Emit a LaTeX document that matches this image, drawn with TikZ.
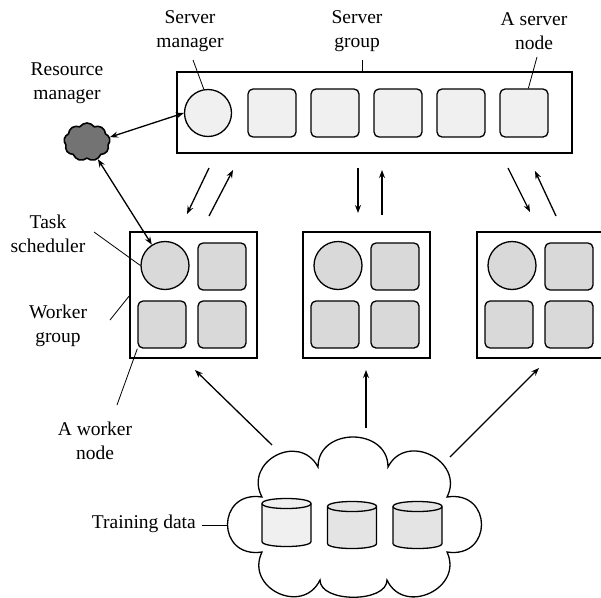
\documentclass[tikz,border=0pt]{standalone}
\usepackage{fontspec}
\setmainfont{Liberation Serif}
\usetikzlibrary{shapes.symbols,arrows.meta}
\definecolor{lightfill}{HTML}{F0F0F0}
\definecolor{midfill}{HTML}{D9D9D9}
\definecolor{cylfill}{HTML}{E4E4E4}
\definecolor{cloudfill}{HTML}{737373}
\begin{document}
\begin{tikzpicture}[x=1pt,y=-1pt,
  every node/.style={font=\fontsize{19.5}{23.5}\selectfont},
  lbl/.style={align=center, inner sep=0},
  groupbox/.style={draw, line width=1.6pt, inner sep=0, fill=white},
  member/.style={draw, line width=1.3pt, rounded corners=5pt, inner sep=0,
    minimum width=48pt, minimum height=47pt},
  manager/.style={draw, line width=1.3pt, circle, inner sep=0, minimum size=48pt},
  flow/.style={line width=1.3pt, -{Stealth[length=8pt,width=6pt]}},
  both/.style={line width=1.3pt, {Stealth[length=8pt,width=6pt]}-{Stealth[length=8pt,width=6pt]}},
  leader/.style={line width=0.8pt},
  cyl/.style={draw, line width=1.3pt},
]
\useasboundingbox (0,0) rectangle (601,597);

% ---------- server group ----------
\node[groupbox, minimum width=395pt, minimum height=81pt] (sg) at (374.5,112.5) {};
\node[manager, fill=lightfill, minimum size=47pt] (sm) at (208,113) {};
\foreach \x [count=\i] in {272,335,398,461,524}
  \node[member, fill=lightfill, minimum height=48pt] (sn\i) at (\x,113) {};

% ---------- resource manager ----------
\node[cloud, draw, line width=1.6pt, fill=cloudfill, cloud puffs=9, cloud puff arc=110,
      aspect=1.2, minimum width=46pt, minimum height=38pt, inner sep=0] (rm) at (87,142) {};

% ---------- worker groups ----------
\foreach \x [count=\g] in {130,303,477} {
  \node[groupbox, minimum width=127pt, minimum height=126pt] (wg\g) at (\x+63.5,295) {};
  \node[manager, fill=midfill] (ts\g) at (\x+35,265.5) {};
  \node[member, fill=midfill] (wa\g) at (\x+92,266.5) {};
  \node[member, fill=midfill] (wb\g) at (\x+32,324.5) {};
  \node[member, fill=midfill] (wc\g) at (\x+92,324.5) {};
}

% ---------- training data ----------
\node[inner sep=0, minimum width=255pt, minimum height=160pt] (td) at (354.5,517) {};
\draw[line width=1.3pt, fill=white]
  (318,467) .. controls (318,427) and (388,427) .. (388,467)
  .. controls (406.2,431.3) and (465.2,461.3) .. (447,497)
  .. controls (493,490) and (493,559) .. (447,552)
  .. controls (463.9,588.2) and (403.9,616.2) .. (387,580)
  .. controls (387,603) and (320,603) .. (320,580)
  .. controls (302.6,616) and (244.6,588) .. (262,552)
  .. controls (216,559) and (216,490) .. (262,497)
  .. controls (243.1,461.7) and (299.1,431.7) .. (318,467) -- cycle;
\foreach \cx/\ty/\by/\cf in {286.5/503.5/541.5/lightfill, 352/506.5/543.5/cylfill, 417.5/506.5/543.5/cylfill} {
  \path[cyl, fill=\cf] (\cx-24.5,\ty) -- (\cx-24.5,\by)
     .. controls (\cx-24.5,\by+6.7) and (\cx+24.5,\by+6.7) .. (\cx+24.5,\by)
     -- (\cx+24.5,\ty)
     .. controls (\cx+24.5,\ty-6.7) and (\cx-24.5,\ty-6.7) .. (\cx-24.5,\ty) -- cycle;
  \draw[cyl] (\cx-24.5,\ty) .. controls (\cx-24.5,\ty+6.7) and (\cx+24.5,\ty+6.7) .. (\cx+24.5,\ty);
}

% ---------- labels ----------
\node[lbl] (lrm) at (67,83) {Resource\\manager};
\node[lbl] (lsm) at (190,31) {Server\\manager};
\node[lbl] (lsg) at (357,31) {Server\\group};
\node[lbl] (lsn) at (534,31) {A server\\node};
\node[lbl] (lts) at (48,234) {Task\\scheduler};
\node[lbl] (lwg) at (58,326) {Worker\\group};
\node[lbl] (lwn) at (95,441) {A worker\\node};
\node[lbl, anchor=east] (ltd) at (196,524) {Training data};

% leader lines
\coordinate (k1) at (193,60);
\coordinate (k2) at (362,60);
\coordinate (k3) at (537,57);
\coordinate (k4) at (94,232);
\coordinate (k5) at (110,320);
\coordinate (k6) at (117,405);
\coordinate (k7) at (202,525);
\draw[leader] (k1) -- (sm.100);
\draw[leader] (k2) -- (sg.north -| k2);
\draw[leader] (k3) -- (sn5.80);
\draw[leader] (k4) -- (ts1.west);
\draw[leader] (k5) -- (wg1.west |- 0,296);
\draw[leader] (k6) -- (wb1.south west);
\draw[leader] (k7) -- (td.west |- k7);

% ---------- connectors ----------
\draw[both] (rm.12) -- (sm.west);
\draw[both] (rm) -- (ts1);

% server group <-> worker groups
\coordinate (d1s) at (209,168); \coordinate (d1e) at (187,214);
\coordinate (u1s) at (209,216); \coordinate (u1e) at (233,170);
\coordinate (d2s) at (358,168); \coordinate (d2e) at (358,213);
\coordinate (u2s) at (382,215); \coordinate (u2e) at (382,170);
\coordinate (d3s) at (508,168); \coordinate (d3e) at (530,212);
\coordinate (u3s) at (556,216); \coordinate (u3e) at (535,171);
\foreach \i in {1,2,3} {
  \draw[flow] (d\i s) -- (d\i e);
  \draw[flow] (u\i s) -- (u\i e);
}

% training data -> worker groups
\coordinate (t1s) at (272,445); \coordinate (t1e) at (195,370);
\coordinate (t2s) at (366,428); \coordinate (t2e) at (366,370);
\coordinate (t3s) at (450,457); \coordinate (t3e) at (539,368);
\foreach \i in {1,2,3}
  \draw[flow] (t\i s) -- (t\i e);
\end{tikzpicture}
\end{document}
